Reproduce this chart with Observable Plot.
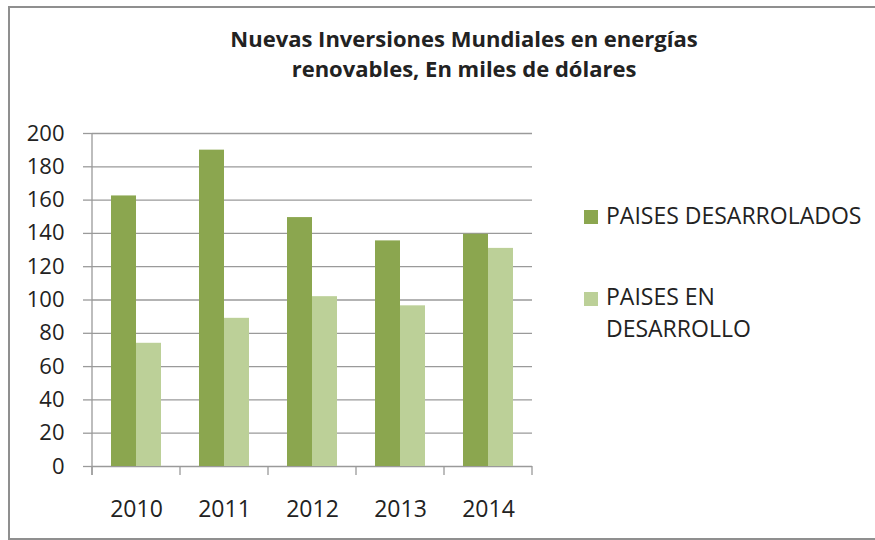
<!DOCTYPE html>
<html>
<head>
<meta charset="utf-8">
<script src="https://cdn.jsdelivr.net/npm/d3@7"></script>
<script src="https://cdn.jsdelivr.net/npm/@observablehq/plot@0.6"></script>
<style>
  html, body { margin: 0; padding: 0; background: #fff; overflow: hidden; }
  #wrap { position: relative; width: 875px; height: 540px; font-family: "Open Sans", sans-serif; color: #222; }
  #border { position: absolute; left: 8px; top: 6px; width: 900px; height: 534px; box-sizing: border-box; border: 2px solid #8f8f8f; }
  #chart { position: absolute; left: 0; top: 0; }
  #title { position: absolute; left: 64px; top: 23px; width: 800px; text-align: center; font-weight: 700; font-size: 22px; line-height: 30px; }
  .leg { position: absolute; left: 584px; font-size: 23px; line-height: 32px; }
  .sw { position: absolute; width: 14px; height: 14px; left: 0; }
  .lt { position: absolute; left: 22px; white-space: nowrap; }
</style>
</head>
<body>
<div id="wrap">
  <div id="border"></div>
  <div id="chart"></div>
  <div id="title"></div>
  <div id="legend"></div>
</div>
<script>
const titleLines = ["Nuevas Inversiones Mundiales en energías", "renovables, En miles de dólares"];
const years = ["2010", "2011", "2012", "2013", "2014"];
const series = ["PAISES DESARROLADOS", "PAISES EN DESARROLLO"];
const legendLines = [["PAISES DESARROLADOS"], ["PAISES EN", "DESARROLLO"]];
const desarrollados = [162.5, 190, 149.5, 135.5, 139.5];
const enDesarrollo = [74, 89, 102, 96.5, 131];
const yTicks = [0, 20, 40, 60, 80, 100, 120, 140, 160, 180, 200];
const colors = ["#8ba64f", "#bcd098"];

const data = [];
years.forEach((yr, i) => {
  data.push({year: yr, series: series[0], value: desarrollados[i]});
  data.push({year: yr, series: series[1], value: enDesarrollo[i]});
});

const gridColor = "#9a9a9a";

const chart = Plot.plot({
  width: 875,
  height: 540,
  marginLeft: 91,
  marginRight: 343,
  marginTop: 133,
  marginBottom: 74,
  style: {fontFamily: "Open Sans, sans-serif", fontSize: "22px", color: "#222", background: "transparent", overflow: "visible"},
  fx: {domain: years, padding: 0, label: null},
  x: {domain: series, paddingInner: 0, paddingOuter: 0.76, axis: null},
  y: {domain: [0, 200], label: null},
  color: {domain: series, range: colors},
  marks: [
    Plot.gridY(yTicks, {stroke: gridColor, strokeOpacity: 1, strokeWidth: 1.3}),
    Plot.barY(data, {fx: "year", x: "series", y: "value", fill: "series"}),
    Plot.axisY(yTicks, {tickSize: 9, tickPadding: 19, stroke: gridColor, strokeOpacity: 1, strokeWidth: 1.3, fill: "#222", fontSize: 22, tickFormat: d => String(d)}),
    Plot.axisFx({anchor: "bottom", tickSize: 0, tickPadding: 34, fill: "#222", fontSize: 23, label: null})
  ]
});
document.getElementById("chart").appendChild(chart);

// axis line and category boundary ticks, from the plot's own scales
const fx = chart.scale("fx");
const y = chart.scale("y");
const bounds = years.map(d => fx.apply(d)).concat([fx.apply(years[years.length - 1]) + fx.bandwidth]);
const svg = d3.select(chart);
const g = svg.append("g").attr("stroke", gridColor).attr("stroke-width", 1.3);
g.append("line").attr("x1", bounds[0]).attr("x2", bounds[0]).attr("y1", y.apply(200)).attr("y2", y.apply(0) + 9);
bounds.forEach(b => {
  g.append("line").attr("x1", b).attr("x2", b).attr("y1", y.apply(0)).attr("y2", y.apply(0) + 9);
});

// title
document.getElementById("title").innerHTML = titleLines.join("<br>");

// legend
const legend = document.getElementById("legend");
const legTops = [199, 280];
const swTops = [11, 12];
legendLines.forEach((lines, i) => {
  const item = document.createElement("div");
  item.className = "leg";
  item.style.top = legTops[i] + "px";
  const sw = document.createElement("div");
  sw.className = "sw";
  sw.style.background = colors[i];
  sw.style.top = swTops[i] + "px";
  const t = document.createElement("div");
  t.className = "lt";
  t.innerHTML = lines.join("<br>");
  item.appendChild(sw);
  item.appendChild(t);
  legend.appendChild(item);
});
</script>
</body>
</html>
